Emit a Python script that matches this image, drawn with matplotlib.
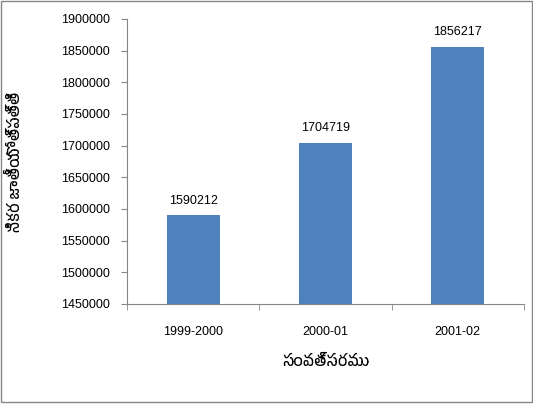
import matplotlib
matplotlib.use("Agg")
import matplotlib.pyplot as plt
from matplotlib import font_manager

years = ["1999-2000", "2000-01", "2001-02"]
values = [1590212, 1704719, 1856217]
xlabel = "సంవత్సరము"
ylabel = "నికర జాతీయోత్పత్తి"

# pick whatever Telugu font is installed
names = sorted(set(f.name for f in font_manager.fontManager.ttflist))
tel = [n for n in names if "Telugu" in n]

plt.rcParams["font.family"] = ["Liberation Sans", "DejaVu Sans"]

fig = plt.figure(figsize=(5.33, 4.04), dpi=100)
ax = fig.add_axes([0.238, 0.248, 0.745, 0.705])

x = range(len(years))
ax.bar(x, values, width=0.4, color="#4F81BD")
for i, v in enumerate(values):
    ax.text(i, v + 13000, str(v), ha="center", va="bottom", fontsize=9)

ax.set_xlim(-0.5, 2.5)
ax.set_ylim(1450000, 1900000)
ax.set_yticks(range(1450000, 1900001, 50000))
ax.ticklabel_format(axis="y", style="plain", useOffset=False)
ax.set_xticks(list(x))
ax.set_xticklabels(years)
ax.set_xticks([-0.5, 0.5, 1.5, 2.5], minor=True)
ax.tick_params(axis="x", which="major", length=0, pad=16, labelsize=9)
ax.tick_params(axis="x", which="minor", length=4, color="#868686")
ax.tick_params(axis="y", length=4, color="#868686", labelsize=9, pad=8)

for s in ["top", "right"]:
    ax.spines[s].set_visible(False)
for s in ["left", "bottom"]:
    ax.spines[s].set_color("#868686")

fam = tel + ["DejaVu Sans"]
fig.text(0.612, 0.105, xlabel, ha="center", va="center", fontsize=11, family=fam)
fig.text(0.028, 0.6, ylabel, ha="center", va="center", rotation=90, fontsize=11, family=fam)

border = plt.Rectangle((0.001, 0.004), 0.997, 0.994, transform=fig.transFigure,
                       fill=False, edgecolor="#868686", linewidth=1)
fig.patches.append(border)

fig.savefig("out.png", dpi=100)
